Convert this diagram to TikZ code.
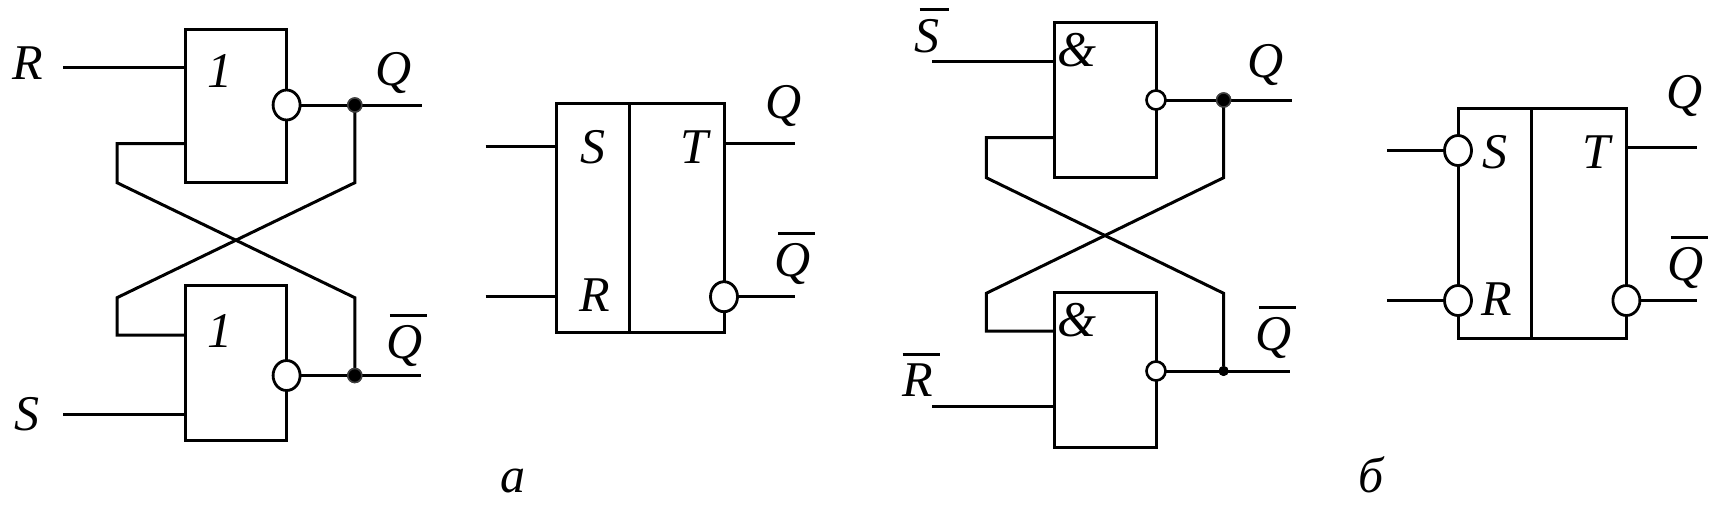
\documentclass[tikz,border=0pt]{standalone}
\usepackage{fontspec}
\setmainfont{Liberation Serif}
\usetikzlibrary{shapes.geometric}
\newcommand\barred[3][3pt]{\vbox{\hbox to 0pt{\kern #1\vrule width #2 height 3pt\hss}\nointerlineskip\kern 8pt\nointerlineskip\hbox{\textit{#3}}}}
\tikzset{
  wire/.style={line width=3pt,line cap=butt,line join=miter},
  box/.style={draw,rectangle,line width=3pt,inner sep=0pt,outer sep=0pt},
  bubble/.style={draw,ellipse,fill=white,line width=2.8pt,inner sep=0pt,outer sep=0pt,minimum width=27pt,minimum height=30pt},
  smallbubble/.style={draw,circle,fill=white,line width=2.6pt,inner sep=0pt,outer sep=0pt,minimum size=19pt},
  dotnode/.style={circle,fill=black,draw=black!75,line width=1.5pt,inner sep=0pt,outer sep=0pt,minimum size=14pt},
  tinydot/.style={circle,fill=black,inner sep=0pt,outer sep=0pt,minimum size=10pt},
  lbl/.style={inner sep=0pt,outer sep=0pt,anchor=base,font=\fontsize{50}{60}\selectfont\itshape},
}
\begin{document}
\begin{tikzpicture}[x=1pt,y=-1pt]
\useasboundingbox (0,0) rectangle (1722,509);
% --- a: left circuit
\node[box,minimum width=100.4pt,minimum height=153.7pt] (g1) at (236,105.9) {};
\node[box,minimum width=100.4pt,minimum height=154.6pt] (g2) at (236,363) {};
\node[bubble] (b1) at (286.6,105) {};
\node[bubble] (b2) at (286.6,375.5) {};
\node[dotnode] (d1) at (354.8,105) {};
\node[dotnode] (d2) at (354.8,375.5) {};
\coordinate (r0) at (63,67); \coordinate (r1) at (185.6,67);
\coordinate (s0) at (63,414.7); \coordinate (s1) at (185.6,414.7);
\coordinate (q1) at (422,105); \coordinate (q2) at (421,375.5);
\coordinate (in1) at (185.6,143.7); \coordinate (l1) at (117,143.7);
\coordinate (l2) at (117,182.7); \coordinate (l3) at (117,297.7);
\coordinate (l4) at (117,335); \coordinate (in2) at (185.6,335);
\coordinate (m1) at (354.8,182.7); \coordinate (m2) at (354.8,297.7);
\draw[wire] (r0) -- (r1);
\draw[wire] (s0) -- (s1);
\draw[wire] (b1.east) -- (q1);
\draw[wire] (b2.east) -- (q2);
\draw[wire] (d1) -- (m1) -- (l3) -- (l4) -- (in2);
\draw[wire] (d2) -- (m2) -- (l2) -- (l1) -- (in1);
\node[dotnode] at (d1) {};
\node[dotnode] at (d2) {};
\node[lbl] (tR) at (27.5,79) {R};
\node[lbl] (tS) at (27,430.5) {S};
\node[lbl] (tOne1) at (220,87) {1};
\node[lbl] (tOne2) at (220,347) {1};
\node[lbl] (tQ1) at (394,85) {Q};
\node[lbl] (tQ2) at (405,358) {\barred{37pt}{Q}};
% --- a: symbol
\node[box,minimum width=167.4pt,minimum height=228.7pt] (ff1) at (640.3,218.3) {};
\coordinate (dv1t) at (629,104); \coordinate (dv1b) at (629,332.7);
\draw[wire] (dv1t) -- (dv1b);
\node[bubble] (b3) at (724,296.7) {};
\coordinate (as0) at (485.7,146.3); \coordinate (as1) at (556.6,146.3);
\coordinate (ar0) at (485.7,296.7); \coordinate (ar1) at (556.6,296.7);
\coordinate (at0) at (724,143.3); \coordinate (at1) at (795,143.3);
\coordinate (aq1) at (795,296.7);
\draw[wire] (as0) -- (as1);
\draw[wire] (ar0) -- (ar1);
\draw[wire] (at0) -- (at1);
\draw[wire] (b3.east) -- (aq1);
\node[lbl] (tS3) at (593.4,163) {S};
\node[lbl] (tR3) at (594.5,311) {R};
\node[lbl] (tT3) at (694,163) {T};
\node[lbl] (tQ3) at (784,118) {Q};
\node[lbl] (tQ4) at (793,276) {\barred{37pt}{Q}};
\node[lbl] (capa) at (512.6,492.7) {a};
% --- б: right circuit
\node[box,minimum width=101.6pt,minimum height=154.7pt] (g3) at (1105.2,99.7) {};
\node[box,minimum width=101.6pt,minimum height=155pt] (g4) at (1105.2,370.2) {};
\node[smallbubble] (b4) at (1156,100) {};
\node[smallbubble] (b5) at (1156,371) {};
\node[dotnode] (d3) at (1223.6,100) {};
\node[tinydot] (d4) at (1223.6,371) {};
\coordinate (ss0) at (932,61); \coordinate (ss1) at (1054.4,61);
\coordinate (rr0) at (932,406); \coordinate (rr1) at (1054.4,406);
\coordinate (q3) at (1291.8,100); \coordinate (q4) at (1289.6,371);
\coordinate (in3) at (1054.4,137.7); \coordinate (n1) at (986.3,137.7);
\coordinate (n2) at (986.3,177.7); \coordinate (n3) at (986.3,293.3);
\coordinate (n4) at (986.3,331); \coordinate (in4) at (1054.4,331);
\coordinate (p1) at (1223.6,177.7); \coordinate (p2) at (1223.6,293.3);
\draw[wire] (ss0) -- (ss1);
\draw[wire] (rr0) -- (rr1);
\draw[wire] (b4.east) -- (q3);
\draw[wire] (b5.east) -- (q4);
\draw[wire] (d3) -- (p1) -- (n3) -- (n4) -- (in4);
\draw[wire] (d4) -- (p2) -- (n2) -- (n1) -- (in3);
\node[dotnode] at (d3) {};
\node[tinydot] at (d4) {};
\node[lbl] (tS5) at (927,52) {\barred[5pt]{29pt}{S}};
\node[lbl] (tR5) at (918,396.7) {\barred[0pt]{37pt}{R}};
\node[lbl] (tA1) at (1077,66) {\&};
\node[lbl] (tA2) at (1077,336) {\&};
\node[lbl] (tQ5) at (1265.4,77.5) {Q};
\node[lbl] (tQ6) at (1274,350) {\barred{37pt}{Q}};
% --- б: symbol
\node[box,minimum width=168.4pt,minimum height=229.7pt] (ff2) at (1542.2,223.2) {};
\coordinate (dv2t) at (1531.3,108.3); \coordinate (dv2b) at (1531.3,338);
\draw[wire] (dv2t) -- (dv2b);
\node[bubble] (b6) at (1458,150.5) {};
\node[bubble] (b7) at (1458,300.5) {};
\node[bubble] (b8) at (1626.4,300.5) {};
\coordinate (bs0) at (1387.4,150.5); \coordinate (br0) at (1387.4,300.5);
\coordinate (bt0) at (1626.4,147.3); \coordinate (bt1) at (1696.7,147.3);
\coordinate (bq1) at (1696.7,300.5);
\draw[wire] (bs0) -- (b6.west);
\draw[wire] (br0) -- (b7.west);
\draw[wire] (bt0) -- (bt1);
\draw[wire] (b8.east) -- (bq1);
\node[lbl] (tS7) at (1494.5,168) {S};
\node[lbl] (tR7) at (1497,315) {R};
\node[lbl] (tT7) at (1596,168) {T};
\node[lbl] (tQ7) at (1685,108) {Q};
\node[lbl] (tQ8) at (1686,280) {\barred{37pt}{Q}};
\node[lbl] (capb) at (1371,492.7) {б};
\end{tikzpicture}
\end{document}
